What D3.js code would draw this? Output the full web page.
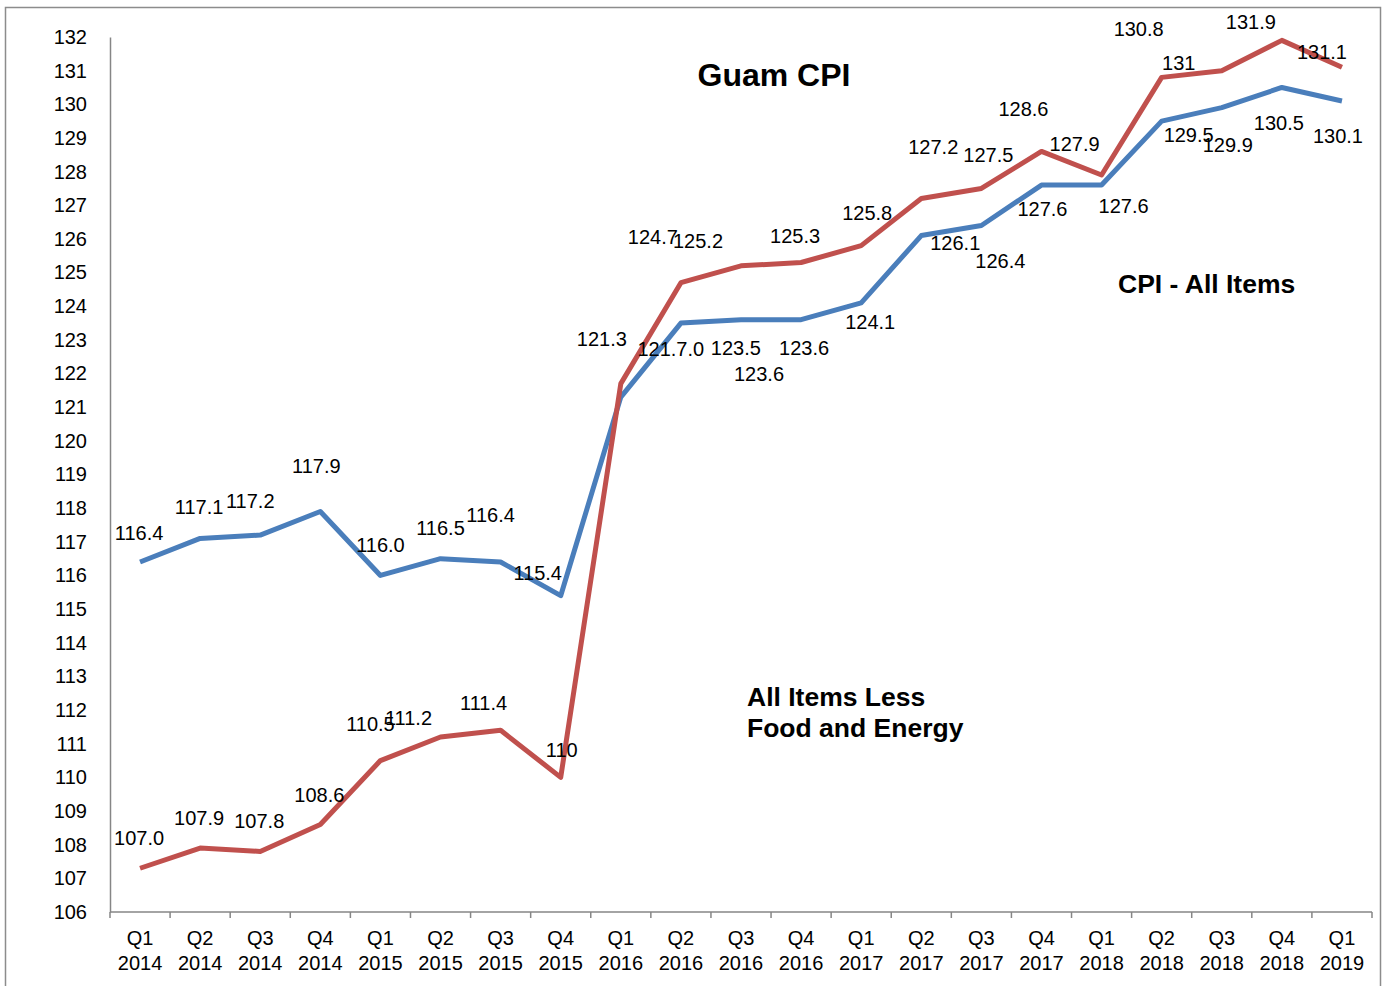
<!DOCTYPE html>
<html>
<head>
<meta charset="utf-8">
<script src="https://cdn.jsdelivr.net/npm/d3@7"></script>
<style>
  body { margin: 0; background: #fff; }
  svg { display: block; font-family: "Liberation Sans", Arial, sans-serif; }
</style>
</head>
<body>
<div class="graph"></div>
<script>
// chart data
const quarters = ["Q1","Q2","Q3","Q4","Q1","Q2","Q3","Q4","Q1","Q2","Q3","Q4","Q1","Q2","Q3","Q4","Q1","Q2","Q3","Q4","Q1"];
const years = ["2014","2014","2014","2014","2015","2015","2015","2015","2016","2016","2016","2016","2017","2017","2017","2017","2018","2018","2018","2018","2019"];
const cpiAll = [116.4,117.1,117.2,117.9,116.0,116.5,116.4,115.4,121.3,123.5,123.6,123.6,124.1,126.1,126.4,127.6,127.6,129.5,129.9,130.5,130.1];
const cpiCore = [107.3,107.9,107.8,108.6,110.5,111.2,111.4,110.0,121.7,124.7,125.2,125.3,125.8,127.2,127.5,128.6,127.9,130.8,131.0,131.9,131.1];
const cpiAllLabels = ["116.4","117.1","117.2","117.9","116.0","116.5","116.4","115.4","121.3","123.5","123.6","123.6","124.1","126.1","126.4","127.6","127.6","129.5","129.9","130.5","130.1"];
const cpiCoreLabels = ["107.0","107.9","107.8","108.6","110.5","111.2","111.4","110","121.7.0","124.7","125.2","125.3","125.8","127.2","127.5","128.6","127.9","130.8","131","131.9","131.1"];
const yTicks = d3.range(106, 133);

// label placement relative to each point (layout, not data)
const allOffsets = [[-1,-29],[-1,-31],[-10,-34],[-4,-46],[0,-30],[0,-31],[-10,-47],[-23,-23],[-19,-58],[55,25],[18,54],[3,28],[9,19],[34,7],[19,36],[1,24],[22,21],[27,14],[6,37],[-3,36],[-4,35]];
const coreOffsets = [[-1,-30],[-1,-30],[-1,-30],[-1,-30],[-10,-37],[-32,-19],[-17,-27],[1,-27],[50,-35],[-28,-46],[-43,-25],[-6,-26],[6,-33],[12,-52],[7,-33],[-18,-42],[-27,-31],[-23,-48],[-43,-8],[-31,-18],[-20,-15]];

const width = 1383, height = 986;
const plotLeft = 110, plotRight = 1372, plotTop = 37, plotBottom = 912;
const blue = "#4a7ebb", red = "#c0504d", axisGrey = "#868686";

const svg = d3.select(".graph").append("svg")
  .attr("width", width).attr("height", height);

svg.append("rect")
  .attr("x", 5.5).attr("y", 7.5)
  .attr("width", 1375).attr("height", 1000)
  .attr("fill", "none").attr("stroke", "#8c8c8c").attr("stroke-width", 1.5);

const idx = d3.range(quarters.length);
const xScale = d3.scaleBand().domain(idx).range([plotLeft, plotRight]).padding(0);
const yScale = d3.scaleLinear().domain([106, 132]).range([plotBottom, plotTop]);
const cx = i => xScale(i) + xScale.bandwidth() / 2;

// y axis
const yAxis = d3.axisLeft(yScale).tickValues(yTicks).tickSize(0).tickPadding(23).tickFormat(d3.format("d"));
const gy = svg.append("g").attr("transform", `translate(${plotLeft},0)`).call(yAxis);
gy.select(".domain").attr("stroke", axisGrey).attr("stroke-width", 1.5);
gy.selectAll("text").attr("font-size", 20).attr("fill", "#000")
  .attr("font-family", "Liberation Sans, Arial, sans-serif");

// x axis
const gx = svg.append("g").attr("transform", `translate(0,${plotBottom})`);
gx.append("line").attr("x1", plotLeft).attr("x2", plotRight)
  .attr("stroke", axisGrey).attr("stroke-width", 1.5);
gx.selectAll(".tick-mark").data(d3.range(quarters.length + 1)).enter().append("line")
  .attr("x1", i => plotLeft + i * xScale.bandwidth())
  .attr("x2", i => plotLeft + i * xScale.bandwidth())
  .attr("y1", 0).attr("y2", 6)
  .attr("stroke", axisGrey).attr("stroke-width", 1.5);
const xl = gx.selectAll(".xlab").data(idx).enter().append("text")
  .attr("x", cx).attr("text-anchor", "middle")
  .attr("font-size", 20).attr("fill", "#000");
xl.append("tspan").attr("x", cx).attr("y", 33).text(i => quarters[i]);
xl.append("tspan").attr("x", cx).attr("y", 58).text(i => years[i]);

// lines
const line = vals => d3.line().x(i => cx(i)).y(i => yScale(vals[i]))(idx);
svg.append("path").attr("d", line(cpiAll)).attr("fill", "none")
  .attr("stroke", blue).attr("stroke-width", 5).attr("stroke-linejoin", "round");
svg.append("path").attr("d", line(cpiCore)).attr("fill", "none")
  .attr("stroke", red).attr("stroke-width", 5).attr("stroke-linejoin", "round");

// data labels
function labels(vals, texts, offs) {
  svg.append("g").selectAll("text").data(idx).enter().append("text")
    .attr("x", i => cx(i) + offs[i][0])
    .attr("y", i => yScale(vals[i]) + offs[i][1])
    .attr("dy", "0.35em").attr("text-anchor", "middle")
    .attr("font-size", 20).attr("fill", "#000")
    .text(i => texts[i]);
}
labels(cpiAll, cpiAllLabels, allOffsets);
labels(cpiCore, cpiCoreLabels, coreOffsets);

// annotations
svg.append("text").attr("x", 774).attr("y", 86).attr("text-anchor", "middle")
  .attr("font-size", 32).attr("font-weight", "bold").text("Guam CPI");
svg.append("text").attr("x", 1118).attr("y", 293)
  .attr("font-size", 26.5).attr("font-weight", "bold").text("CPI - All Items");
const note = svg.append("text").attr("x", 747).attr("font-size", 26.5).attr("font-weight", "bold");
note.append("tspan").attr("x", 747).attr("y", 706).text("All Items Less");
note.append("tspan").attr("x", 747).attr("y", 737).text("Food and Energy");
</script>
</body>
</html>
